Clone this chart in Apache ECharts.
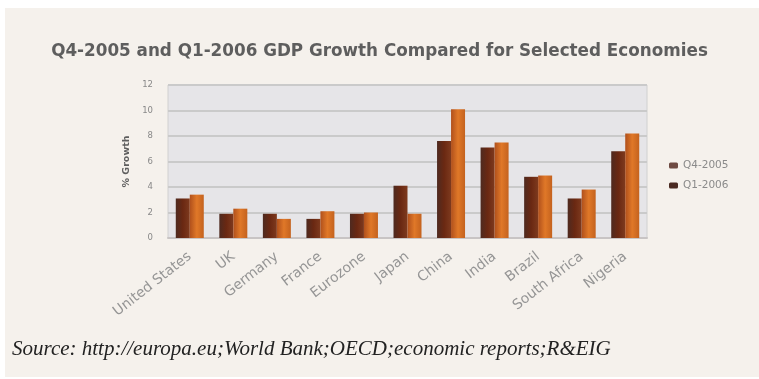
<!DOCTYPE html>
<html><head><meta charset="utf-8">
<script src="https://cdn.jsdelivr.net/npm/echarts@6/dist/echarts.min.js"></script>
<style>
html,body{margin:0;padding:0;background:#fff;width:759px;height:379px;overflow:hidden;}
#wrap{position:absolute;left:5px;top:8px;width:754px;height:369px;background:#f5f1ec;}
#chart{position:absolute;left:0;top:0;width:759px;height:379px;}
#src{position:absolute;left:12px;top:336px;font-family:"Liberation Serif",serif;font-style:italic;font-size:21px;color:#222;white-space:nowrap;}
</style></head>
<body>
<div id="wrap"></div>
<div id="chart"></div>
<div id="src">Source: http://europa.eu;World Bank;OECD;economic reports;R&amp;EIG</div>
<script>
const titleText = 'Q4-2005 and Q1-2006 GDP Growth Compared for Selected Economies';
const categories = ['United States','UK','Germany','France','Eurozone','Japan','China','India','Brazil','South Africa','Nigeria'];
const seriesNames = ['Q4-2005','Q1-2006'];
const q4_2005 = [3.1, 1.9, 1.9, 1.5, 1.9, 4.1, 7.6, 7.1, 4.8, 3.1, 6.8];
const q1_2006 = [3.4, 2.3, 1.5, 2.1, 2.0, 1.9, 10.1, 7.5, 4.9, 3.8, 8.2];
const yTicks = [0, 2, 4, 6, 8, 10, 12];

const chart = echarts.init(document.getElementById('chart'), null, {renderer:'canvas'});
function grad(a,b,c){return new echarts.graphic.LinearGradient(0,0,1,0,[{offset:0,color:a},{offset:0.5,color:b},{offset:1,color:c}]);}
chart.setOption({
  backgroundColor:'transparent',
  animation:false,
  title:{text:titleText,left:'center',top:38,textStyle:{fontFamily:'DejaVu Sans',fontWeight:'bold',fontSize:16.8,color:'#5e5e5e'}},
  legend:{orient:'vertical',left:664,top:155,itemWidth:9,itemHeight:6,itemGap:9,
    textStyle:{fontSize:10.5,color:'#8a8a8a',fontFamily:'DejaVu Sans'},
    data:[{name:seriesNames[0],itemStyle:{color:'#6e4a42'}},{name:seriesNames[1],itemStyle:{color:'#4a2a22'}}]},
  grid:{left:168,top:85,width:479,height:153,show:true,backgroundColor:'#e6e5e8',borderColor:'#d0d0d0',borderWidth:1},
  xAxis:{type:'category',data:categories,
    axisLine:{lineStyle:{color:'#c8c4c4',width:2}},axisTick:{show:false},
    axisLabel:{rotate:38,fontSize:14,color:'#959595',margin:17,fontFamily:'DejaVu Sans',interval:0}},
  yAxis:{type:'value',min:yTicks[0],max:yTicks[yTicks.length-1],interval:2,
    name:'% Growth',nameLocation:'middle',nameGap:36,nameRotate:90,
    nameTextStyle:{fontSize:9.5,fontWeight:'bold',color:'#5e5e5e',fontFamily:'DejaVu Sans'},
    axisLine:{show:false},axisTick:{show:false},
    axisLabel:{fontSize:8.5,color:'#888',margin:15,fontFamily:'DejaVu Sans'},
    splitLine:{lineStyle:{color:'#cacaca',width:2}}},
  series:[
    {name:seriesNames[0],type:'bar',data:q4_2005,barWidth:14,barGap:'0%',
     itemStyle:{color:grad('#4e2a20','#6a2812','#7e3a1e')}},
    {name:seriesNames[1],type:'bar',data:q1_2006,barWidth:14,
     itemStyle:{color:grad('#b0501c','#e07828','#c4621e')}}
  ]
});
</script>
</body></html>
